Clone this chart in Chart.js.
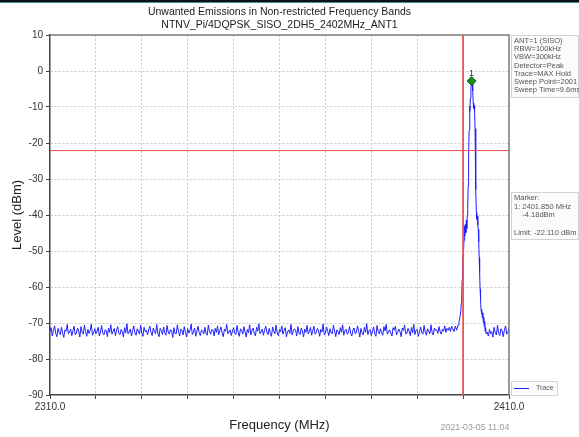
<!DOCTYPE html>
<html>
<head>
<meta charset="utf-8">
<script src="https://cdn.jsdelivr.net/npm/chart.js@4/dist/chart.umd.min.js"></script>
<style>
    html, body { margin: 0; padding: 0; background: #fff; }
    #topbar { position: absolute; left: 0; top: 0; width: 579px; height: 3px; background: linear-gradient(#111 0, #111 2px, #3b8f8f 2px); }
    #chartBox { position: absolute; left: 0; top: 0; }
</style>
</head>
<body>
<div id="chartBox"><canvas id="spectrumChart" width="579" height="437"></canvas></div>
<div id="topbar"></div>
<script>
// Judul dan teks keterangan
const titleLines = ['Unwanted Emissions in Non-restricted Frequency Bands', 'NTNV_Pi/4DQPSK_SISO_2DH5_2402MHz_ANT1'];
const xTitle = 'Frequency (MHz)';
const yTitle = 'Level (dBm)';
const dateText = '2021-03-05 11:04';
const infoLines = ['ANT=1 (SISO)', 'RBW=100kHz', 'VBW=300kHz', 'Detector=Peak', 'Trace=MAX Hold', 'Sweep Point=2001', 'Sweep Time=9.6ms'];
const markerLines = ['Marker:', '1: 2401.850 MHz', '    -4.18dBm', '', 'Limit: -22.110 dBm'];
const legendLabel = 'Trace';

// Sumbu
const xTickValues = [2310, 2320, 2330, 2340, 2350, 2360, 2370, 2380, 2390, 2400, 2410];
const xTickLabels = ['2310.0', '', '', '', '', '', '', '', '', '', '2410.0'];
const yTickValues = [10, 0, -10, -20, -30, -40, -50, -60, -70, -80, -90];

// Noise kiri: 2310.00 .. 2397.75 MHz, langkah 0.25 MHz
const noiseLeftStart = 2310;
const noiseStep = 0.25;
const noiseLeft = [
    -72.4,-71.3,-73.6,-72.0,-70.8,-72.9,-73.8,-71.5,-72.6,-73.2,-71.1,
    -72.7,-74.0,-71.9,-72.3,-70.4,-73.0,-72.5,-71.7,-73.5,-72.1,-70.9,
    -73.3,-72.8,-71.4,-72.2,-73.9,-71.0,-72.6,-73.1,-70.6,-72.4,-73.7,
    -71.8,-72.9,-72.0,-70.3,-73.4,-72.7,-71.6,-73.0,-72.2,-71.2,-73.6,
    -72.5,-70.7,-72.8,-73.3,-71.9,-72.1,-73.8,-71.4,-72.6,-70.5,-73.1,
    -72.3,-71.5,-73.5,-72.0,-71.0,-72.9,-73.2,-71.8,-72.4,-73.9,-71.3,
    -72.7,-70.2,-73.0,-72.5,-71.7,-73.6,-72.1,-70.8,-72.8,-73.4,-71.6,
    -72.2,-73.1,-70.6,-72.9,-73.7,-71.2,-72.4,-72.0,-73.3,-71.9,-70.9,
    -72.6,-73.5,-71.4,-72.3,-73.0,-70.4,-72.8,-73.8,-71.5,-72.1,-73.2,
    -71.1,-72.7,-73.4,-70.7,-72.5,-73.1,-71.8,-72.2,-74.0,-71.3,-72.9,
    -73.0,-70.5,-72.4,-73.6,-71.7,-72.0,-73.3,-71.0,-72.6,-73.9,-71.6,
    -72.8,-72.1,-70.3,-73.2,-72.5,-71.4,-73.7,-72.3,-70.9,-72.7,-73.5,
    -71.9,-72.2,-73.0,-71.2,-72.9,-73.4,-70.6,-72.4,-73.1,-71.8,-72.0,
    -73.6,-71.5,-72.6,-70.8,-73.3,-72.1,-71.1,-72.8,-73.8,-71.7,-72.3,
    -70.4,-73.0,-72.5,-71.9,-73.5,-72.2,-71.3,-72.9,-73.2,-70.7,-72.6,
    -73.7,-71.6,-72.0,-73.1,-71.0,-72.4,-73.9,-71.8,-72.7,-70.5,-73.3,
    -72.1,-71.4,-72.8,-73.6,-71.2,-72.3,-70.2,-73.0,-72.5,-71.7,-73.4,
    -72.0,-70.9,-72.6,-73.2,-71.5,-72.9,-73.7,-71.1,-72.2,-73.0,-70.6,
    -72.7,-73.5,-71.8,-72.4,-70.8,-73.1,-72.1,-71.3,-73.8,-72.5,-71.9,
    -72.9,-70.4,-73.3,-72.3,-71.6,-72.0,-73.6,-71.0,-72.8,-73.2,-71.4,
    -72.2,-73.9,-71.7,-72.6,-70.7,-73.0,-72.4,-71.2,-73.4,-72.1,-70.9,
    -73.1,-72.7,-71.5,-72.0,-73.7,-71.8,-72.5,-70.3,-73.3,-72.9,-71.1,
    -72.3,-73.5,-71.6,-72.8,-73.0,-70.6,-72.2,-73.8,-71.9,-72.4,-73.2,
    -71.3,-72.6,-70.5,-73.4,-72.1,-71.7,-73.1,-72.7,-71.0,-72.9,-73.6,
    -72.0,-71.4,-73.0,-72.5,-70.8,-72.3,-73.9,-71.5,-72.8,-73.3,-71.2,
    -72.6,-70.2,-73.2,-72.1,-71.8,-73.5,-72.4,-71.1,-72.9,-73.7,-70.7,
    -72.3,-73.0,-71.6,-72.7,-73.4,-71.0,-72.2,-70.4,-73.1,-72.5,-71.9,
    -72.8,-73.6,-71.3,-72.0,-70.9,-73.3,-72.6,-71.7,-72.4,-73.8,-71.4,
    -72.1,-70.6,-73.0,-72.9,-71.5,-72.3,-73.5,-71.2,-72.7,-70.3,-73.2,
    -72.0,-71.8,-73.7,-72.4,-71.1,-72.8,-73.1,-70.7,-72.5,-73.4,-71.6,
    -72.2,-73.0,-70.5,-72.6,-73.3,-71.4,-72.1,-71.9,-72.9,-71.0,-72.4,
    -73.1,-71.7,-72.3,-70.8,-72.6,-71.5,-72.0,-71.2,-72.4,-70.9,-71.6
];

// Daerah puncak (frekuensi & level)
const peakFreq = [
    2398.0, 2398.3, 2398.6, 2398.9, 2399.1, 2399.3, 2399.5, 2399.6, 2399.7, 2399.8,
    2399.9, 2400.0, 2400.1, 2400.2, 2400.3, 2400.35, 2400.4, 2400.5, 2400.6, 2400.7,
    2400.8, 2400.9, 2401.0, 2401.1, 2401.2, 2401.3, 2401.4, 2401.45, 2401.5, 2401.6,
    2401.7, 2401.8, 2401.9, 2402.0, 2402.1, 2402.2, 2402.3, 2402.4, 2402.5, 2402.6,
    2402.7, 2402.8, 2402.9, 2403.0, 2403.1, 2403.2, 2403.3, 2403.4, 2403.5, 2403.6,
    2403.7, 2403.8, 2403.9, 2404.0, 2404.1, 2404.2, 2404.3, 2404.4, 2404.5, 2404.6,
    2404.7, 2404.8, 2404.9, 2405.0
];
const peakLevel = [
    -72.4, -70.9, -72.0, -70.5, -69.8, -68.4, -66.9, -64.5, -62.0, -58.0,
    -54.0, -51.5, -49.8, -47.0, -45.2, -43.0, -45.8, -42.6, -44.9, -41.5,
    -43.8, -40.2, -38.5, -32.0, -24.0, -16.5, -12.0, -9.8, -11.2, -7.5,
    -5.0, -3.4, -2.8, -3.6, -5.5, -8.9, -10.4, -9.6, -11.3, -16.0,
    -24.5, -33.0, -39.5, -41.2, -40.3, -42.8, -44.0, -47.5, -51.8, -56.0,
    -60.5, -63.5, -66.2, -67.5, -66.3, -68.6, -67.2, -69.8, -68.4, -71.0,
    -69.5, -72.3, -71.2, -73.0
];

// Noise kanan: 2405.25 .. 2410.00 MHz
const noiseRightStart = 2405.25;
const noiseRight = [
    -72.5, -73.6, -71.8, -73.0, -72.4, -73.9, -71.2, -72.7, -73.3, -70.6,
    -72.9, -73.5, -71.6, -72.2, -73.8, -71.9, -70.8, -73.1, -72.6, -71.4
];

// Marker & limit
const markerFreq = 2401.85;
const markerLevel = -2.8;
const limitLevel = -22.11;
const limitFreqs = [2310, 2410];
const bandEdge = 2400;
const bandEdgeLevels = [10, -90];

// Gabungkan data trace
let tracePoints = [];
noiseLeft.forEach(function(v, i) { tracePoints.push({x: noiseLeftStart + i * noiseStep, y: v}); });
peakFreq.forEach(function(f, i) { tracePoints.push({x: f, y: peakLevel[i]}); });
noiseRight.forEach(function(v, i) { tracePoints.push({x: noiseRightStart + i * noiseStep, y: v}); });

const FONT = "'Liberation Sans', Arial, sans-serif";

const overlay = {
    id: 'overlay',
    afterDraw: function(chart) {
        const ctx = chart.ctx;
        const a = chart.chartArea;
        const xs = chart.scales.x, ys = chart.scales.y;
        const cx = (a.left + a.right) / 2;
        ctx.save();

        // bingkai atas & kanan
        ctx.strokeStyle = '#7a7a7a';
        ctx.lineWidth = 1.5;
        ctx.beginPath();
        ctx.moveTo(a.left, a.top); ctx.lineTo(a.right, a.top); ctx.lineTo(a.right, a.bottom);
        ctx.stroke();

        // label marker "1"
        ctx.fillStyle = '#333';
        ctx.font = '9px ' + FONT;
        ctx.textAlign = 'center';
        ctx.textBaseline = 'bottom';
        ctx.fillText('1', xs.getPixelForValue(markerFreq), ys.getPixelForValue(markerLevel) - 3);

        // judul
        ctx.fillStyle = '#222';
        ctx.font = '10.5px ' + FONT;
        ctx.textBaseline = 'middle';
        ctx.fillText(titleLines[0], cx, 12);
        ctx.fillText(titleLines[1], cx, 25);

        // judul sumbu
        ctx.font = '13px ' + FONT;
        ctx.fillText(xTitle, cx, 425);
        ctx.save();
        ctx.translate(17, (a.top + a.bottom) / 2);
        ctx.rotate(-Math.PI / 2);
        ctx.fillText(yTitle, 0, 0);
        ctx.restore();

        // tanggal
        ctx.fillStyle = '#999';
        ctx.font = '8.8px ' + FONT;
        ctx.fillText(dateText, 475, 428);

        // kotak info
        function box(x, y, w, h) {
            ctx.fillStyle = '#fbfbfb';
            ctx.fillRect(x, y, w, h);
            ctx.strokeStyle = '#d2d2d2';
            ctx.lineWidth = 1;
            ctx.strokeRect(x + 0.5, y + 0.5, w, h);
        }
        ctx.textAlign = 'left';
        box(511, 35, 67, 62);
        ctx.fillStyle = '#555';
        ctx.font = '7.5px ' + FONT;
        infoLines.forEach(function(t, i) { ctx.fillText(t, 514, 41 + i * 8.2); });

        box(511, 192, 67, 47);
        ctx.fillStyle = '#555';
        markerLines.forEach(function(t, i) { if (t) ctx.fillText(t, 514, 198 + i * 8.7); });

        // legenda
        box(511, 381, 46, 14);
        ctx.strokeStyle = '#1f1fff';
        ctx.lineWidth = 1;
        ctx.beginPath(); ctx.moveTo(514, 388.5); ctx.lineTo(529, 388.5); ctx.stroke();
        ctx.fillStyle = '#555';
        ctx.font = '7px ' + FONT;
        ctx.fillText(legendLabel, 536, 388.5);

        ctx.restore();
    }
};

var ctx = document.getElementById('spectrumChart').getContext('2d');
var spectrumChart = new Chart(ctx, {
    type: 'line',
    data: {
        datasets: [{
            label: 'Marker',
            data: [{x: markerFreq, y: markerLevel}],
            showLine: false,
            pointStyle: 'rectRot',
            pointRadius: 4.5,
            backgroundColor: '#1e8c1e',
            borderColor: '#0e5e0e',
            borderWidth: 1
        },
        {
            label: 'Limit',
            data: limitFreqs.map(function(f) { return {x: f, y: limitLevel}; }),
            borderColor: '#ee4c4c',
            borderWidth: 1,
            pointRadius: 0
        },
        {
            label: 'Band edge',
            data: bandEdgeLevels.map(function(l) { return {x: bandEdge, y: l}; }),
            borderColor: '#ee4c4c',
            borderWidth: 1,
            pointRadius: 0
        },
        {
            label: legendLabel,
            data: tracePoints,
            borderColor: '#1f1fff',
            borderWidth: 1,
            pointRadius: 0,
            tension: 0
        }]
    },
    options: {
        responsive: false,
        animation: false,
        events: [],
        layout: { padding: { top: 35, right: 70, left: 0, bottom: 0 } },
        plugins: { legend: { display: false }, tooltip: { enabled: false }, title: { display: false } },
        scales: {
            x: {
                type: 'linear',
                min: 2310, max: 2410,
                afterBuildTicks: function(scale) { scale.ticks = xTickValues.map(function(v) { return {value: v}; }); },
                afterFit: function(scale) { scale.height = 42; },
                ticks: {
                    autoSkip: false, maxRotation: 0, padding: 2,
                    color: '#333', font: { family: FONT, size: 10 },
                    callback: function(v) { return xTickLabels[xTickValues.indexOf(v)]; }
                },
                grid: {
                    color: function(c) { return (c.index === 0 || c.index === xTickValues.length - 1) ? 'rgba(0,0,0,0)' : '#c8c8c8'; },
                    tickColor: '#444', tickLength: 4, tickWidth: 1
                },
                border: { color: '#444', width: 1.5, dash: [2, 2] }
            },
            y: {
                type: 'linear',
                min: -90, max: 10,
                afterBuildTicks: function(scale) { scale.ticks = yTickValues.slice().reverse().map(function(v) { return {value: v}; }); },
                afterFit: function(scale) { scale.width = 50; },
                ticks: { color: '#333', padding: 3, font: { family: FONT, size: 10 } },
                grid: {
                    color: function(c) { return (c.index === 0 || c.index === yTickValues.length - 1) ? 'rgba(0,0,0,0)' : '#c8c8c8'; },
                    tickColor: '#444', tickLength: 4, tickWidth: 1
                },
                border: { color: '#444', width: 1.5, dash: [2, 2] }
            }
        }
    },
    plugins: [overlay]
});
</script>
</body>
</html>
